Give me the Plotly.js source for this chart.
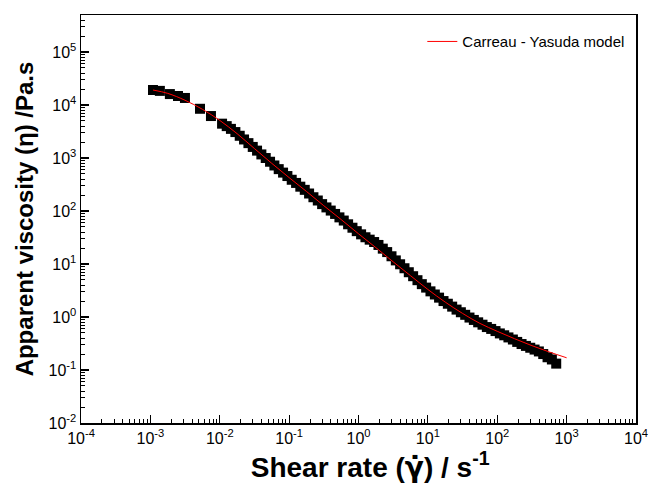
<!DOCTYPE html>
<html>
<head>
<meta charset="utf-8">
<script src="https://cdn.plot.ly/plotly-3.0.1.min.js"></script>
<style>html,body{margin:0;padding:0;background:#fff;}#chart{width:649px;height:490px;}</style>
</head>
<body>
<div id="chart"></div>
<script>
// Measured data: shear rate (1/s) and apparent viscosity (Pa.s)
var shearRate = [0.00109, 0.00137, 0.00191, 0.0025, 0.00315, 0.00519, 0.00747, 0.0108,
  0.0126, 0.0145, 0.0168, 0.0194, 0.0224, 0.0259, 0.0299, 0.0345, 0.0398, 0.046, 0.0531, 0.0613, 0.0708, 0.0818, 0.0944,
  0.109, 0.126, 0.145, 0.168, 0.194, 0.224, 0.259, 0.299, 0.345, 0.398, 0.46, 0.531, 0.613, 0.708, 0.818, 0.944,
  1.09, 1.26, 1.45, 1.68, 1.94, 2.24, 2.59, 2.99, 3.45, 3.98, 4.6, 5.31, 6.13, 7.08, 8.18, 9.44,
  10.9, 12.6, 14.5, 16.8, 19.4, 22.4, 25.9, 29.9, 34.5, 39.8, 46, 53.1, 61.3, 70.8, 81.8, 94.4,
  109, 126, 145, 168, 194, 224, 259, 299, 345, 398, 460, 531, 613, 708];
var viscosity = [19200, 18500, 16100, 14800, 13600, 8500, 6200, 4450,
  4000, 3550, 3090, 2630, 2240, 1910, 1620, 1380, 1170, 1000, 851, 724, 617, 531, 457,
  389, 339, 288, 251, 214, 182, 158, 135, 117, 102, 88.1, 75.9, 66.1, 56.2, 48.4, 41.7,
  36.3, 32.0, 28.8, 26.0, 22.9, 19.5, 16.8, 14.0, 11.7, 9.89, 8.32, 7.0, 5.89, 4.95, 4.17,
  3.59, 3.05, 2.66, 2.32, 2.0, 1.78, 1.57, 1.38, 1.23, 1.10, 0.977, 0.881, 0.794, 0.716, 0.646,
  0.596, 0.543, 0.490, 0.452, 0.412, 0.376, 0.339, 0.309, 0.285, 0.263, 0.243, 0.224, 0.200, 0.174, 0.158, 0.132];

// Carreau - Yasuda model curve
var modelRate = [0.00109, 0.00178, 0.00316, 0.00562, 0.01, 0.0178, 0.0316, 0.0562, 0.1, 0.178, 0.316, 0.562,
  1, 1.78, 3.16, 5.62, 10, 17.8, 31.6, 56.2, 100, 178, 316, 562, 1000];
var modelVisc = [19200, 16600, 12300, 8320, 5130, 2880, 1510, 794, 427, 234, 126, 69.2,
  37.2, 20.4, 11.0, 6.03, 3.31, 1.91, 1.17, 0.759, 0.537, 0.389, 0.288, 0.219, 0.170];

var xTickVals = [1e-4, 1e-3, 1e-2, 1e-1, 1, 10, 100, 1000, 10000];
var xTickText = ['10<sup>-4</sup>', '10<sup>-3</sup>', '10<sup>-2</sup>', '10<sup>-1</sup>', '10<sup>0</sup>',
  '10<sup>1</sup>', '10<sup>2</sup>', '10<sup>3</sup>', '10<sup>4</sup>'];
var yTickVals = [1e-2, 1e-1, 1, 10, 100, 1000, 1e4, 1e5];
var yTickText = ['10<sup>-2</sup>', '10<sup>-1</sup>', '10<sup>0</sup>', '10<sup>1</sup>', '10<sup>2</sup>',
  '10<sup>3</sup>', '10<sup>4</sup>', '10<sup>5</sup>'];

function minorVals(lo, hi) {
  var v = [];
  for (var e = lo; e < hi; e++) {
    for (var d = 2; d <= 9; d++) v.push(d * Math.pow(10, e));
  }
  return v;
}

var font = 'Liberation Sans, Arial, sans-serif';

var traces = [
  {
    x: shearRate, y: viscosity, type: 'scatter', mode: 'markers',
    marker: {symbol: 'square', size: 10, color: '#000000'},
    showlegend: false, cliponaxis: false
  },
  {
    x: modelRate, y: modelVisc, type: 'scatter', mode: 'lines',
    line: {color: '#ff0000', width: 1, shape: 'spline'},
    name: 'Carreau - Yasuda model'
  }
];

var layout = {
  width: 649, height: 490,
  margin: {l: 81, r: 13, t: 15, b: 67},
  paper_bgcolor: '#ffffff', plot_bgcolor: '#ffffff',
  font: {family: font, color: '#000000', size: 16},
  showlegend: true,
  legend: {x: 0.615, y: 0.975, xanchor: 'left', yanchor: 'top', bgcolor: 'rgba(0,0,0,0)',
    font: {family: font, size: 15, color: '#000'}},
  xaxis: {
    type: 'log', range: [-4, 4],
    tickmode: 'array', tickvals: xTickVals, ticktext: xTickText,
    ticks: 'inside', ticklen: 8, tickwidth: 1.2, tickcolor: '#000',
    minor: {tickmode: 'array', tickvals: minorVals(-4, 4), ticks: 'inside', ticklen: 4, tickwidth: 1, tickcolor: '#000', showgrid: false},
    showline: true, linecolor: '#000', linewidth: 1.5, mirror: true,
    showgrid: false, zeroline: false,
    tickfont: {family: font, size: 16},
    title: {text: '<b>&nbsp;&nbsp;&nbsp;Shear rate (<span style="font-family:DejaVu Sans">γ̇</span>) / s<sup>-1</sup></b>', font: {family: font, size: 28}, standoff: 11}
  },
  yaxis: {
    type: 'log', range: [-2, Math.log10(5e5)],
    tickmode: 'array', tickvals: yTickVals, ticktext: yTickText,
    ticks: 'inside', ticklen: 8, tickwidth: 1.2, tickcolor: '#000',
    minor: {tickmode: 'array', tickvals: minorVals(-2, 6), ticks: 'inside', ticklen: 4, tickwidth: 1, tickcolor: '#000', showgrid: false},
    showline: true, linecolor: '#000', linewidth: 1.5, mirror: true,
    showgrid: false, zeroline: false,
    tickfont: {family: font, size: 16},
    title: {text: '<b>Apparent viscosity (η) /Pa.s</b>', font: {family: font, size: 24}, standoff: 8}
  }
};

Plotly.newPlot('chart', traces, layout, {displayModeBar: false, staticPlot: true});
</script>
</body>
</html>
